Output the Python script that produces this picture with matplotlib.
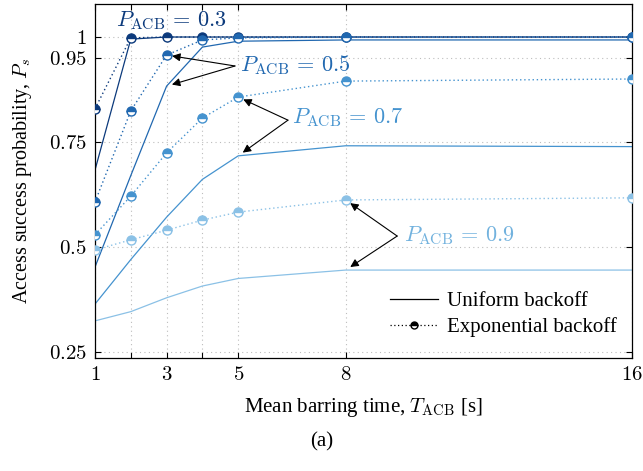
import matplotlib
matplotlib.use('Agg')
import matplotlib.pyplot as plt
from matplotlib.lines import Line2D

plt.rcParams['font.family'] = 'Liberation Serif'
plt.rcParams['mathtext.fontset'] = 'cm'
plt.rcParams['font.size'] = 15

# Mean barring time (s)
t_acb = [1, 2, 3, 4, 5, 8, 16]

# Access success probability, uniform backoff
uni_03 = [0.683, 0.995, 1.0, 1.0, 1.0, 1.0, 1.0]
uni_05 = [0.452, 0.670, 0.883, 0.976, 0.990, 0.993, 0.993]
uni_07 = [0.364, 0.470, 0.571, 0.661, 0.717, 0.741, 0.739]
uni_09 = [0.324, 0.346, 0.379, 0.407, 0.425, 0.445, 0.445]

# Access success probability, exponential backoff
exp_03 = [0.829, 0.998, 1.0, 1.0, 1.0, 1.0, 1.0]
exp_05 = [0.607, 0.824, 0.957, 0.993, 0.998, 1.0, 1.0]
exp_07 = [0.529, 0.621, 0.724, 0.807, 0.857, 0.895, 0.900]
exp_09 = [0.493, 0.517, 0.540, 0.564, 0.583, 0.612, 0.617]

p_labels = ['0.3', '0.5', '0.7', '0.9']
colors = ['#0c3a7c', '#2168b0', '#4593cf', '#8bc1e6']
text_colors = ['#0c3a7c', '#2168b0', '#4593cf', '#72b2de']

yticks = [0.25, 0.5, 0.75, 0.95, 1.0]
ytick_labels = ['0.25', '0.5', '0.75', '0.95', '1']
xtick_labels = ['1', '', '3', '', '5', '8', '16']

uniform = [uni_03, uni_05, uni_07, uni_09]
exponential = [exp_03, exp_05, exp_07, exp_09]

fig = plt.figure(figsize=(6.43, 4.71), dpi=100)
ax = fig.add_axes([0.1477, 0.24, 0.8353, 0.7515])

# draw lightest first so dark curves sit on top
for i in reversed(range(4)):
    c = colors[i]
    ax.plot(t_acb, uniform[i], color=c, lw=0.9, zorder=2 + i * 0.1)
    ax.plot(t_acb, exponential[i], color=c, lw=1.0, ls=(0, (1, 2)),
            marker='o', ms=6.5, mew=1.0, mec=c, mfc=c, fillstyle='top',
            markerfacecoloralt='white', zorder=3 + i * 0.1)

ax.set_xlim(1, 16)
ax.set_ylim(0.2357, 1.0786)
ax.set_xticks(t_acb)
ax.set_xticklabels(['$%s$' % s if s else '' for s in xtick_labels])
ax.set_yticks(yticks)
ax.set_yticklabels(['$%s$' % s for s in ytick_labels])
ax.tick_params(direction='in', top=True, right=True, length=4, width=0.8,
               labelsize=15, pad=6)
ax.grid(True, ls=(0, (1, 3)), color='#bdbdbd', lw=0.8)
for s in ax.spines.values():
    s.set_linewidth(0.9)

ax.set_xlabel(r'Mean barring time, $T_{\mathrm{ACB}}$ [s]', fontsize=15, labelpad=8)
ax.set_ylabel(r'Access success probability, $P_s$', fontsize=14.5)
ax.yaxis.set_label_coords(-0.113, 0.5)

fig.text(0.5, 0.062, '(a)', ha='center', va='center', fontsize=15)

# P_ACB labels and arrows
def lab(i):
    return r'$P_{\mathrm{ACB}}\,=\,%s$' % p_labels[i]

arrow = dict(arrowstyle='-|>', color='black', lw=0.8, mutation_scale=12,
             shrinkA=0, shrinkB=4)

ax.text(1.58, 1.038, lab(0), color=text_colors[0], fontsize=16, va='center')

ax.text(5.06, 0.934, lab(1), color=text_colors[1], fontsize=16, va='center')
ax.annotate('', xy=(3, exp_05[2]), xytext=(4.91, 0.931), arrowprops=arrow)
ax.annotate('', xy=(3, uni_05[2]), xytext=(4.91, 0.931), arrowprops=arrow)

ax.text(6.51, 0.808, lab(2), color=text_colors[2], fontsize=16, va='center')
ax.annotate('', xy=(5, exp_07[4]), xytext=(6.39, 0.802), arrowprops=arrow)
ax.annotate('', xy=(5, uni_07[4]), xytext=(6.39, 0.802), arrowprops=arrow)

ax.text(9.64, 0.528, lab(3), color=text_colors[3], fontsize=16, va='center')
ax.annotate('', xy=(8, exp_09[5]), xytext=(9.44, 0.526), arrowprops=arrow)
ax.annotate('', xy=(8, uni_09[5]), xytext=(9.44, 0.526), arrowprops=arrow)

handles = [
    Line2D([], [], color='black', lw=0.9),
    Line2D([], [], color='black', lw=0.9, ls=(0, (1, 2)), marker='o', ms=5,
           mec='black', mfc='black', fillstyle='top', markerfacecoloralt='white'),
]
ax.legend(handles, ['Uniform backoff', 'Exponential backoff'], loc='lower right',
          bbox_to_anchor=(1.0, 0.014), frameon=False, fontsize=15,
          handlelength=2.3, handletextpad=0.4, labelspacing=0.3, borderaxespad=0.35)

fig.savefig('out.png', dpi=100)
